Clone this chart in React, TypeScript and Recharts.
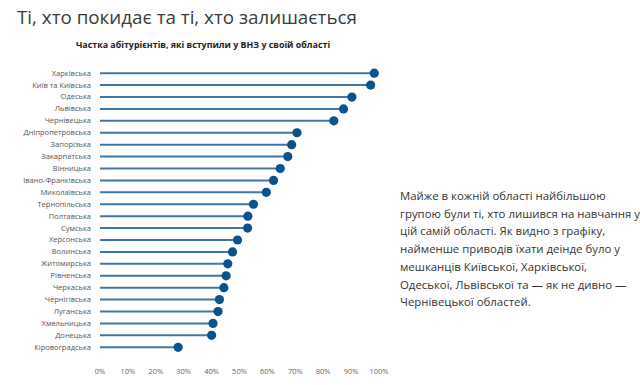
import React from "react";
import { ComposedChart, Bar, XAxis, YAxis } from "recharts";

const regions = [
  "Харківська",
  "Київ та Київська",
  "Одеська",
  "Львівська",
  "Чернівецька",
  "Дніпропетровська",
  "Запорізька",
  "Закарпатська",
  "Вінницька",
  "Івано-Франківська",
  "Миколаївська",
  "Тернопільська",
  "Полтавська",
  "Сумська",
  "Херсонська",
  "Волинська",
  "Житомирська",
  "Рівненська",
  "Черкаська",
  "Чернігівська",
  "Луганська",
  "Хмельницька",
  "Донецька",
  "Кіровоградська",
];

const shares = [
  98.3, 97, 90.3, 87.3, 83.8, 70.6, 68.7, 67.3, 64.6, 62.2, 59.6, 55,
  53, 52.9, 49.3, 47.5, 45.8, 45.2, 44.4, 42.8, 42.3, 40.5, 40, 28,
];

const xTicks = [0, 10, 20, 30, 40, 50, 60, 70, 80, 90, 100];

const title = "Ті, хто покидає та ті, хто залишається";
const subtitle = "Частка абітурієнтів, які вступили у ВНЗ у своїй області";
const paragraph =
  "Майже в кожній області найбільшою групою були ті, хто лишився на навчання у цій самій області. Як видно з графіку, найменше приводів їхати деінде було у мешканців Київської, Харківської, Одеської, Львівської та — як не дивно — Чернівецької областей.";

const data = regions.map((r, i) => ({ region: r, share: shares[i] }));

const Lollipop = (props: any) => {
  const { x, y, width, height } = props;
  const cy = y + height / 2;
  return (
    <g>
      <line x1={x} y1={cy} x2={x + width} y2={cy} stroke="#3f78a6" strokeWidth={2} />
      <circle cx={x + width} cy={cy} r={4.6} fill="#0a528c" />
    </g>
  );
};

const RegionTick = (props: any) => {
  const { x, y, payload } = props;
  return (
    <text
      x={x}
      y={y}
      dy="0.35em"
      textAnchor="end"
      fontSize={7.5}
      fill="#555"
      fontFamily="'Open Sans', sans-serif"
    >
      {payload.value}
    </text>
  );
};

export default function App() {
  return (
    <div
      style={{
        position: "absolute",
        left: 0,
        top: 0,
        width: 640,
        height: 385,
        background: "#fff",
        fontFamily: "'Open Sans', sans-serif",
      }}
    >
      <div
        style={{
          position: "absolute",
          left: 17,
          top: 4,
          fontSize: 18.8,
          color: "#3a3a3a",
          whiteSpace: "nowrap",
        }}
      >
        {title}
      </div>
      <div
        style={{
          position: "absolute",
          left: 0,
          width: 406,
          textAlign: "center",
          top: 38,
          fontSize: 8.9,
          fontWeight: 700,
          color: "#222",
          whiteSpace: "nowrap",
        }}
      >
        {subtitle}
      </div>
      <div style={{ position: "absolute", left: 0, top: 0 }}>
        <ComposedChart
          width={390}
          height={385}
          data={data}
          layout="vertical"
          margin={{ top: 67, right: 11, bottom: 2, left: 0 }}
        >
          <XAxis
            type="number"
            domain={[0, 100]}
            ticks={xTicks}
            tickFormatter={(v: number) => `${v}%`}
            axisLine={false}
            tickLine={false}
            tickSize={6}
            tickMargin={10}
            height={30}
            interval={0}
            tick={{ fontSize: 7.5, fill: "#666", fontFamily: "'Open Sans', sans-serif" }}
          />
          <YAxis
            type="category"
            dataKey="region"
            width={100}
            axisLine={false}
            tickLine={false}
            tickSize={6}
            tickMargin={3}
            interval={0}
            tick={<RegionTick />}
          />
          <Bar dataKey="share" shape={<Lollipop />} isAnimationActive={false} />
        </ComposedChart>
      </div>
      <div
        style={{
          position: "absolute",
          left: 400,
          top: 187,
          width: 242,
          fontSize: 11.4,
          lineHeight: "17.7px",
          color: "#333",
        }}
      >
        {paragraph}
      </div>
    </div>
  );
}
